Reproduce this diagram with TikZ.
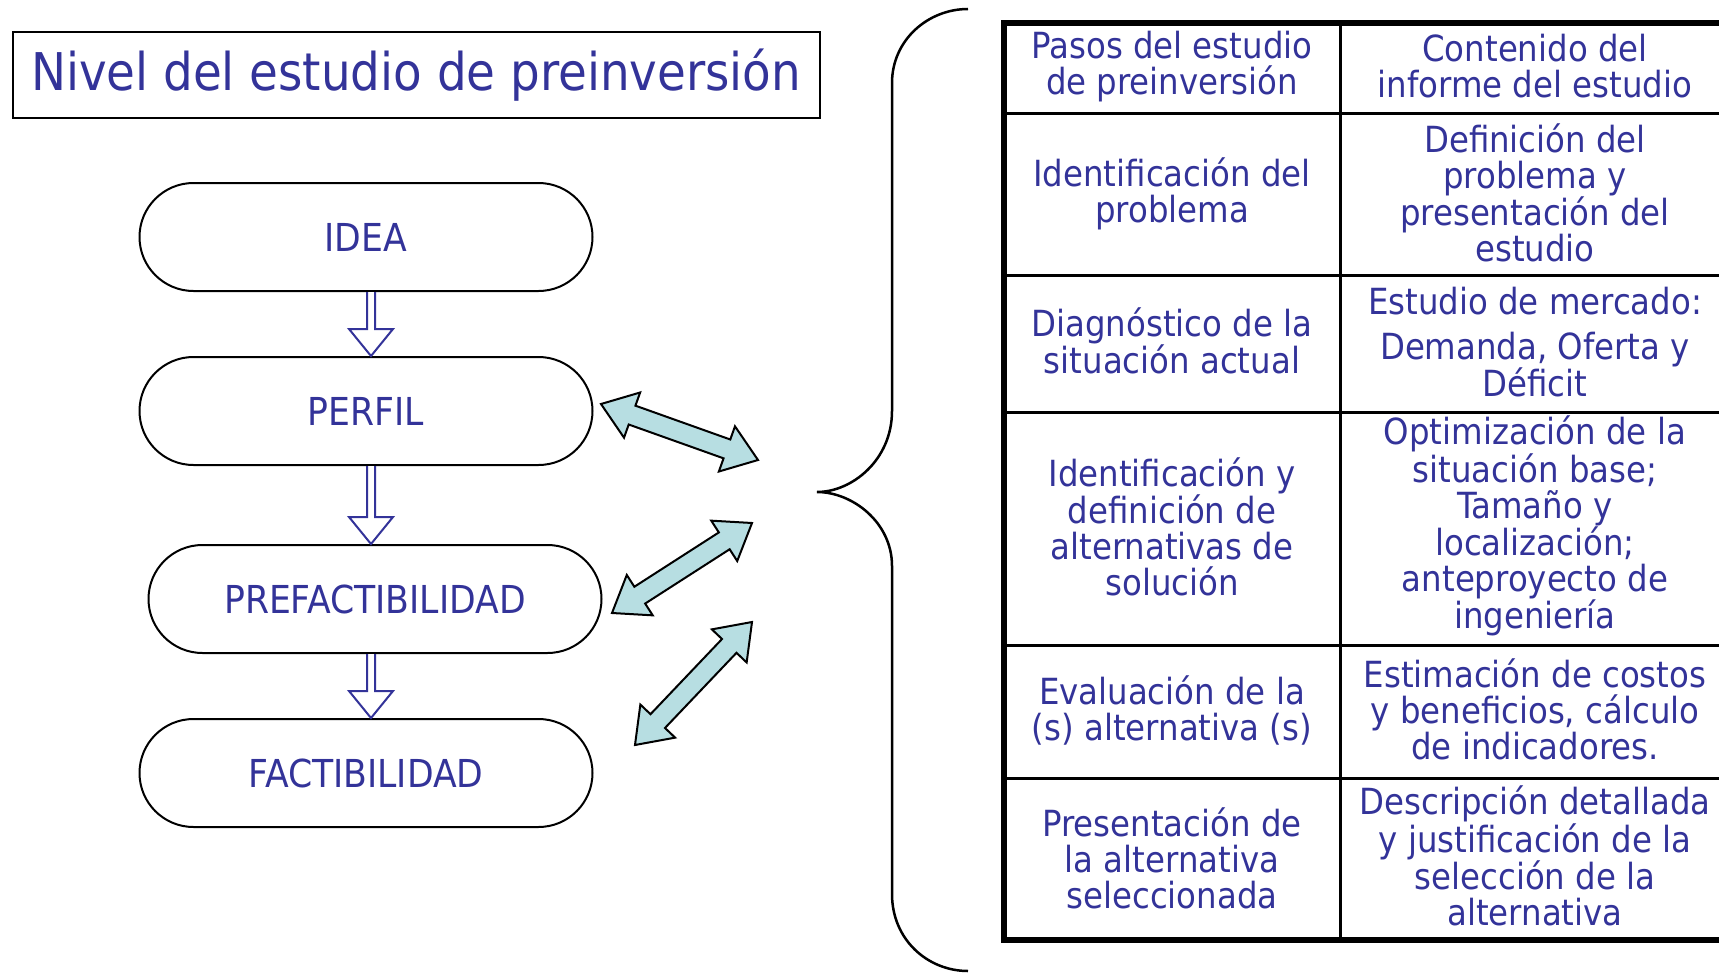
\documentclass[tikz,border=0pt]{standalone}
\usepackage{fontspec}
\setmainfont{DejaVu Sans Condensed}
\usetikzlibrary{calc}
\definecolor{azul}{RGB}{51,51,153}
\definecolor{celeste}{RGB}{183,222,226}

\newcommand\flechadoble[2]{%
\draw[vaiven] (#1)
 -- ($(#1)!33pt!(#2)!24pt!90:(#2)$) -- ($(#1)!33pt!(#2)!10pt!90:(#2)$)
 -- ($(#2)!33pt!(#1)!10pt!-90:(#1)$) -- ($(#2)!33pt!(#1)!24pt!-90:(#1)$)
 -- (#2)
 -- ($(#2)!33pt!(#1)!24pt!90:(#1)$) -- ($(#2)!33pt!(#1)!10pt!90:(#1)$)
 -- ($(#1)!33pt!(#2)!10pt!-90:(#2)$) -- ($(#1)!33pt!(#2)!24pt!-90:(#2)$)
 -- cycle;}

\begin{document}
\begin{tikzpicture}[x=1pt,y=-1pt,
  etapa/.style={draw,line width=2pt,rounded corners=54pt,minimum width=453pt,
    minimum height=108pt,text=azul,font=\fontsize{38.5}{38}\selectfont},
  celda/.style={align=center,text=azul,inner sep=0pt,font=\fontsize{36}{36}\selectfont},
  bajar/.style={draw=azul,line width=2pt,fill=white},
  vaiven/.style={draw=black,line width=2pt,fill=celeste,line join=miter}]
\useasboundingbox (0,0) rectangle (1719,974);
\clip (0,0) rectangle (1719,974);

% titulo
\node[draw,line width=2pt,minimum width=807pt,minimum height=85pt,text=azul,
  font=\fontsize{52}{52}\selectfont] (titulo) at (416,75) {Nivel del estudio de preinversión};

% niveles
\node[etapa] (idea) at (366,237) {IDEA};
\node[etapa] (perfil) at (366,411) {PERFIL};
\node[etapa] (prefact) at (375,599) {PREFACTIBILIDAD};
\node[etapa] (fact) at (366,773) {FACTIBILIDAD};

\coordinate (eje) at (371,0);
\foreach \a/\b in {idea/perfil,perfil/prefact,prefact/fact}
  \draw[bajar] ($(\a.south -| eje)+(-4,0)$) -- ($(\b.north -| eje)+(-4,-27)$)
    -- ($(\b.north -| eje)+(-22,-27)$) -- (\b.north -| eje)
    -- ($(\b.north -| eje)+(22,-27)$) -- ($(\b.north -| eje)+(4,-27)$)
    -- ($(\a.south -| eje)+(4,0)$);

% flechas dobles
\coordinate (p1) at (601,404); \coordinate (q1) at (758,460);
\coordinate (p2) at (612,613); \coordinate (q2) at (752,523);
\coordinate (p3) at (635,745); \coordinate (q3) at (752,622);
\flechadoble{p1}{q1}
\flechadoble{p2}{q2}
\flechadoble{p3}{q3}

% llave
\draw[line width=2.5pt] (968,9) .. controls (928,9) and (892,40) .. (892,83) -- (892,411)
  .. controls (892,460) and (852,492) .. (817,492)
  .. controls (852,492) and (892,522) .. (892,566) -- (892,894)
  .. controls (892,940) and (928,971) .. (968,971);

% tabla
\foreach \y in {113,275,412,645,778}
  \draw[line width=3pt] (1004,\y) -- (1730,\y);
\draw[line width=3pt] (1340,23) -- (1340,940);
\draw[line width=6pt] (1004,23) rectangle (1730,940);

\node[celda] (paso0) at (1172,67) {Pasos del estudio\\de preinversión};
\node[celda] (cont0) at (1535,66) {Contenido del\\informe del estudio};
\node[celda] (paso1) at (1172,194) {Identificación del\\problema};
\node[celda] (cont1) at (1535,193) {Definición del\\problema y\\presentación del\\estudio};
\node[celda] (paso2) at (1172,341) {Diagnóstico de la\\situación actual};
\node[celda] (cont2) at (1535,342) {Estudio de mercado:\\[9pt]Demanda, Oferta y\\Déficit};
\node[celda] (paso3) at (1172,527) {Identificación y\\definición de\\alternativas de\\solución};
\node[celda] (cont3) at (1535,526) {Optimización de la\\situación base;\\Tamaño y\\localización;\\anteproyecto de\\ingeniería};
\node[celda] (paso4) at (1172,710) {Evaluación de la\\(s) alternativa (s)};
\node[celda] (cont4) at (1535,709) {Estimación de costos\\y beneficios, cálculo\\de indicadores.};
\node[celda] (paso5) at (1172,858) {Presentación de\\la alternativa\\seleccionada};
\node[celda] (cont5) at (1535,856) {Descripción detallada\\y justificación de la\\selección de la\\alternativa};
\end{tikzpicture}
\end{document}
